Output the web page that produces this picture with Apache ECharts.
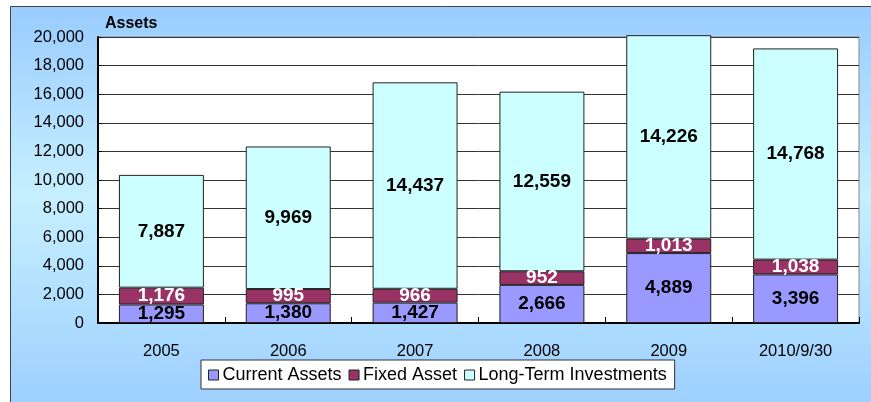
<!DOCTYPE html>
<html>
<head>
<meta charset="utf-8">
<title>Assets</title>
<script src="https://cdn.jsdelivr.net/npm/echarts@6/dist/echarts.min.js"></script>
<style>
    html, body {margin: 0; padding: 0; background: #fff;}
    #chart {width: 871px; height: 402px;}
</style>
</head>
<body>
<div id="chart"></div>
<script>
    // data
    var categories = ['2005', '2006', '2007', '2008', '2009', '2010/9/30'];
    var currentAssets = [1295, 1380, 1427, 2666, 4889, 3396];
    var fixedAsset = [1176, 995, 966, 952, 1013, 1038];
    var longTermInv = [7887, 9969, 14437, 12559, 14226, 14768];
    var seriesNames = ['Current Assets', 'Fixed Asset', 'Long-Term Investments'];

    var font = 'Liberation Sans, Arial, sans-serif';

    function fmt(v) {
        return v.toString().replace(/\B(?=(\d{3})+(?!\d))/g, ',');
    }

    function barSeries(name, data, color, labelColor) {
        return {
            name: name,
            type: 'bar',
            stack: 'total',
            clip: false,
            barCategoryGap: '33%',
            data: data,
            itemStyle: {color: color, borderColor: '#222', borderWidth: 1},
            label: {
                show: true,
                position: 'inside',
                color: labelColor,
                fontFamily: font,
                fontWeight: 'bold',
                fontSize: 19,
                formatter: function (p) { return fmt(p.value); }
            }
        };
    }

    var myChart = echarts.init(document.getElementById('chart'), null, {renderer: 'canvas'});

    var option = {
        animation: false,
        backgroundColor: '#fff',
        graphic: [
            {
                type: 'rect',
                z: -10,
                shape: {x: 10.5, y: 6.5, width: 880, height: 420},
                style: {
                    fill: new echarts.graphic.LinearGradient(0, 0, 0, 1, [
                        {offset: 0, color: '#99ccff'},
                        {offset: 0.45, color: '#c6efff'},
                        {offset: 1, color: '#99ccff'}
                    ]),
                    stroke: '#444',
                    lineWidth: 1
                }
            },
            {
                type: 'text',
                left: 105,
                top: 16,
                style: {text: 'Assets', font: 'bold 16px ' + font, fill: '#000'}
            }
        ],
        grid: {
            left: 98,
            right: 12,
            top: 37,
            bottom: 79,
            show: true,
            backgroundColor: '#fff',
            borderColor: '#888',
            borderWidth: 1
        },
        legend: {
            data: seriesNames,
            left: 201,
            top: 360,
            itemWidth: 10,
            itemHeight: 10,
            itemGap: 7,
            padding: [6, 8, 5, 7],
            backgroundColor: '#fff',
            borderColor: '#333',
            borderWidth: 1,
            borderRadius: 0,
            icon: 'rect',
            itemStyle: {borderColor: '#222', borderWidth: 1},
            textStyle: {fontFamily: font, fontSize: 18, color: '#000', padding: [0, 0, 0, -1]}
        },
        xAxis: {
            type: 'category',
            data: categories,
            axisLine: {lineStyle: {color: '#000', width: 2}},
            axisTick: {show: true, inside: true, length: 6, alignWithLabel: false, lineStyle: {color: '#000'}},
            axisLabel: {fontFamily: font, fontSize: 16.5, color: '#000', margin: 20}
        },
        yAxis: {
            type: 'value',
            min: 0,
            max: 20000,
            interval: 2000,
            axisLine: {show: true, lineStyle: {color: '#000', width: 2}},
            axisTick: {show: true, inside: true, length: 4, lineStyle: {color: '#000'}},
            splitLine: {lineStyle: {color: '#333', width: 1}},
            axisLabel: {
                fontFamily: font, fontSize: 16.5, color: '#000', margin: 14,
                formatter: function (v) { return fmt(v); }
            }
        },
        series: [
            barSeries(seriesNames[0], currentAssets, '#9999ff', '#000'),
            barSeries(seriesNames[1], fixedAsset, '#993366', '#fff'),
            barSeries(seriesNames[2], longTermInv, '#ccffff', '#000')
        ]
    };

    myChart.setOption(option);
</script>
</body>
</html>
